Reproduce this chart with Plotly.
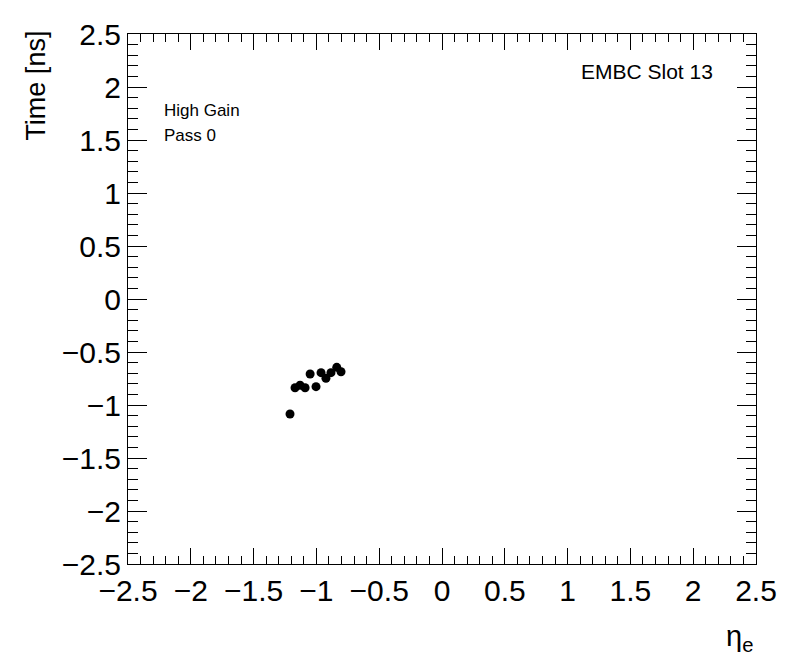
import plotly.graph_objects as go

eta = [-1.21, -1.17, -1.13, -1.09, -1.05, -1.003, -0.963, -0.924, -0.884, -0.838, -0.804]
time_ns = [-1.085, -0.837, -0.814, -0.837, -0.708, -0.827, -0.695, -0.748, -0.695, -0.645, -0.686]
tick_vals = [-2.5, -2, -1.5, -1, -0.5, 0, 0.5, 1, 1.5, 2, 2.5]
tick_text = ["\u22122.5", "\u22122", "\u22121.5", "\u22121", "\u22120.5", "0", "0.5", "1", "1.5", "2", "2.5"]

fig = go.Figure()
fig.add_trace(go.Scatter(x=eta, y=time_ns, mode="markers",
                         marker=dict(color="black", size=9, symbol="circle"),
                         showlegend=False))

font = "Liberation Sans, Arial, sans-serif"
axis_common = dict(
    showgrid=False, zeroline=False, showline=True, linecolor="black", linewidth=1,
    mirror="allticks", ticks="inside", tickcolor="black", tickwidth=1,
    tickmode="array", tickvals=tick_vals, ticktext=tick_text, range=[-2.5, 2.5],
    tickfont=dict(family=font, size=30, color="black"), automargin=False,
    minor=dict(ticks="inside", dtick=0.1, tick0=0, tickcolor="black", showgrid=False),
)
fig.update_layout(
    width=788, height=664, plot_bgcolor="white", paper_bgcolor="white",
    margin=dict(l=120, r=40, t=26, b=108),
    xaxis=dict(**axis_common, ticklen=16, tickangle=0),
    yaxis=dict(**axis_common, ticklen=19),
    font=dict(family=font, color="black"),
)
fig.update_xaxes(minor_ticklen=8)
fig.update_yaxes(minor_ticklen=10)

fig.add_annotation(text="η<sub>e</sub>", xref="paper", yref="paper", x=0.998, y=-0.14,
                   xanchor="right", yanchor="middle", showarrow=False,
                   font=dict(family=font, size=29))
fig.add_annotation(text="Time [ns]", xref="paper", yref="paper", x=-0.147, y=0.902,
                   xanchor="center", yanchor="middle", textangle=-90, showarrow=False,
                   font=dict(family=font, size=27))
fig.add_annotation(text="High Gain", xref="paper", yref="paper", x=0.054, y=0.855,
                   xanchor="left", yanchor="middle", showarrow=False,
                   font=dict(family=font, size=17))
fig.add_annotation(text="Pass 0", xref="paper", yref="paper", x=0.054, y=0.809,
                   xanchor="left", yanchor="middle", showarrow=False,
                   font=dict(family=font, size=17))
fig.add_annotation(text="EMBC Slot 13", xref="paper", yref="paper", x=0.935, y=0.930,
                   xanchor="right", yanchor="middle", showarrow=False,
                   font=dict(family=font, size=21))

fig.write_html("out.html")
